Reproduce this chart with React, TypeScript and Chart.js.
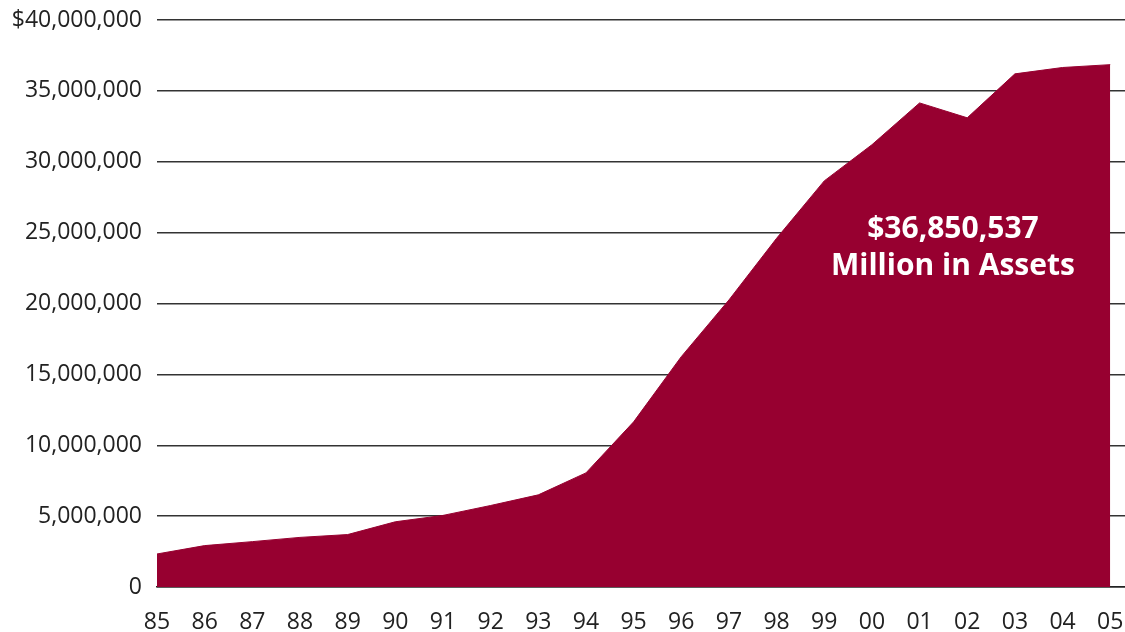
import React, { useEffect, useRef } from "react";
import { Chart, registerables } from "chart.js";

Chart.register(...registerables);

const yearLabels = ["85", "86", "87", "88", "89", "90", "91", "92", "93", "94", "95", "96", "97", "98", "99", "00", "01", "02", "03", "04", "05"];
const assets = [2330000, 2920000, 3200000, 3500000, 3700000, 4600000, 5050000, 5750000, 6500000, 8050000, 11650000, 16250000, 20250000, 24600000, 28650000, 31200000, 34150000, 33100000, 36200000, 36650000, 36850537];
const annotationLines = ["$36,850,537", "Million in Assets"];

const FILL = "#970030";
const FONT = "'Open Sans', 'DejaVu Sans', sans-serif";

const annotationPlugin = {
  id: "assetAnnotation",
  afterDatasetsDraw(chart: any) {
    const { ctx, scales } = chart;
    const x = scales.x.getPixelForValue(16.7);
    const y1 = scales.y.getPixelForValue(25200000);
    const y2 = scales.y.getPixelForValue(22600000);
    ctx.save();
    ctx.fillStyle = "#ffffff";
    ctx.font = `bold 30px ${FONT}`;
    ctx.textAlign = "center";
    ctx.textBaseline = "middle";
    ctx.fillText(annotationLines[0], x, y1);
    ctx.fillText(annotationLines[1], x, y2);
    ctx.restore();
  },
};

export default function App() {
  const ref = useRef<HTMLCanvasElement | null>(null);
  useEffect(() => {
    if (!ref.current) return;
    const data = assets.map((v, i) => ({ x: i, y: v }));
    const chart = new Chart(ref.current, {
      type: "line",
      data: {
        datasets: [
          {
            data,
            fill: "origin",
            backgroundColor: FILL,
            borderColor: FILL,
            borderWidth: 1,
            pointRadius: 0,
            tension: 0,
          },
        ],
      },
      options: {
        animation: false,
        responsive: false,
        maintainAspectRatio: false,
        layout: { padding: { top: 20, right: 0, bottom: 0, left: 0 } },
        plugins: { legend: { display: false }, tooltip: { enabled: false } },
        scales: {
          x: {
            type: "linear",
            min: 0,
            max: 20.31,
            afterBuildTicks: (scale: any) => {
              scale.ticks = yearLabels.map((_, i) => ({ value: i }));
            },
            afterFit: (scale: any) => {
              scale.height = 45;
              scale.paddingLeft = 0;
              scale.paddingRight = 0;
            },
            grid: { display: false, drawTicks: false },
            border: { display: true, color: "#222", width: 1.5 },
            ticks: {
              autoSkip: false,
              maxRotation: 0,
              padding: 22,
              color: "#222",
              font: { family: FONT, size: 23 },
              callback: (v: any) => yearLabels[Math.round(Number(v))] ?? "",
            },
          },
          y: {
            min: 0,
            max: 40000000,
            afterFit: (scale: any) => {
              scale.width = 157;
              scale.paddingTop = 0;
              scale.paddingBottom = 0;
            },
            grid: { color: "#333", lineWidth: 1.5, drawTicks: false },
            border: { display: false },
            ticks: {
              stepSize: 5000000,
              padding: 15,
              color: "#222",
              font: { family: FONT, size: 23 },
              callback: (v: any) => {
                const n = Number(v);
                const s = n.toLocaleString("en-US");
                return n === 40000000 ? "$" + s : s;
              },
            },
          },
        },
      },
      plugins: [annotationPlugin],
    });
    return () => chart.destroy();
  }, []);
  return (
    <div style={{ position: "absolute", left: 0, top: 0, width: 1125, height: 632, background: "#fff" }}>
      <canvas ref={ref} width={1125} height={632} style={{ width: 1125, height: 632 }} />
    </div>
  );
}
